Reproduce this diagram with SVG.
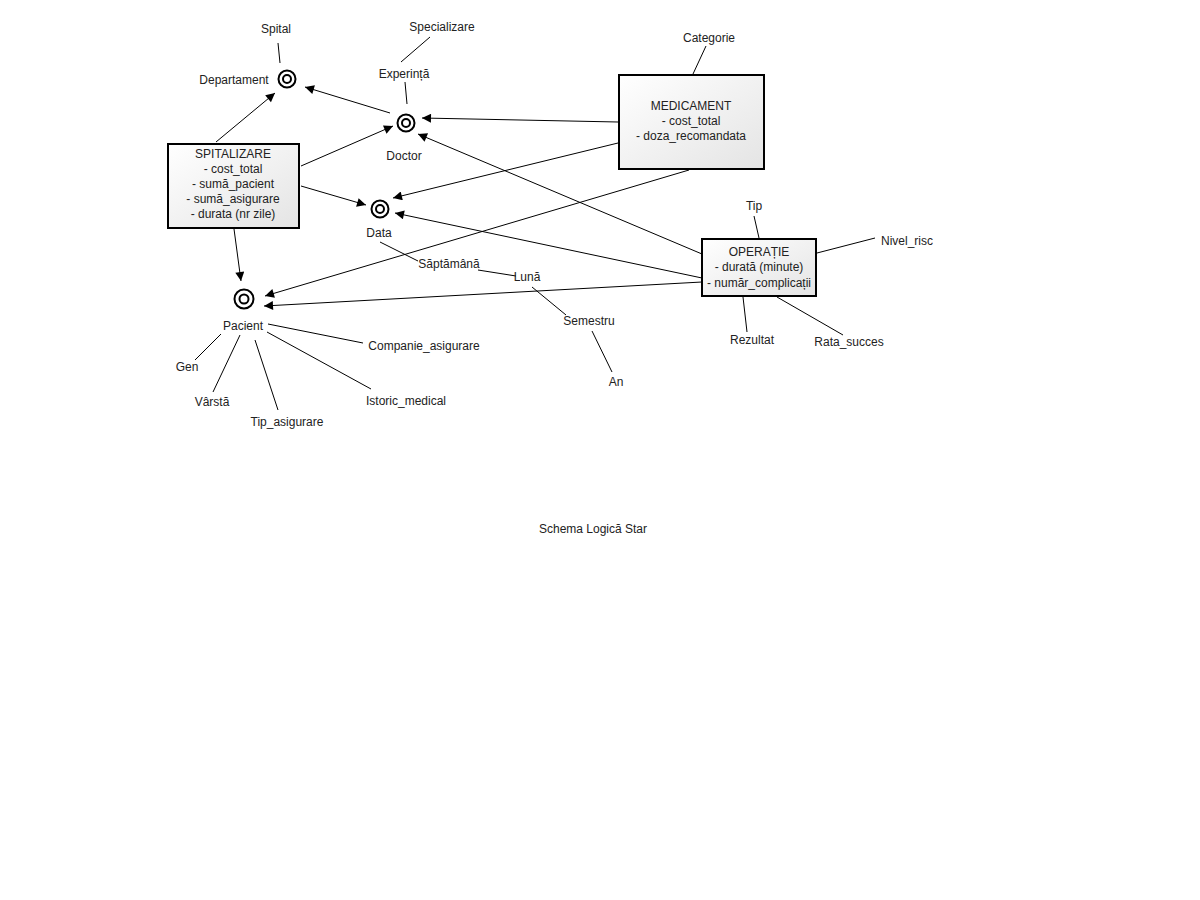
<svg xmlns="http://www.w3.org/2000/svg" width="1200" height="900" viewBox="0 0 1200 900">
<style>
text{font-family:"Liberation Sans",Arial,sans-serif;font-size:12px;fill:#222;text-anchor:middle}
.box{stroke:#000;stroke-width:2;fill:url(#g)}
.ring{fill:none;stroke:#000;stroke-width:2}
.ln{stroke:#000;stroke-width:1;fill:none}
.ar{stroke:#000;stroke-width:1;fill:none;marker-end:url(#ah)}
</style>
<defs>
<linearGradient id="g" x1="0" y1="0" x2="1" y2="1">
<stop offset="0" stop-color="#ffffff"/>
<stop offset="1" stop-color="#e4e4e4"/>
</linearGradient>
<marker id="ah" viewBox="0 0 10 10" refX="10" refY="5" markerWidth="14" markerHeight="9" markerUnits="userSpaceOnUse" orient="auto">
<path d="M0,0 L10,5 L0,10 Z" fill="#000"/>
</marker>
</defs>
<rect width="1200" height="900" fill="#fff"/>
<g id="connectors">
<line class="ar" x1="216" y1="142" x2="275" y2="93"/>
<line class="ar" x1="390" y1="113" x2="305" y2="87"/>
<line class="ar" x1="301" y1="166" x2="393" y2="126"/>
<line class="ar" x1="301" y1="186" x2="366" y2="205"/>
<line class="ar" x1="234" y1="229" x2="241" y2="281"/>
<line class="ar" x1="618" y1="122" x2="422" y2="118"/>
<line class="ar" x1="702" y1="254" x2="418" y2="134"/>
<line class="ar" x1="618" y1="143" x2="393" y2="198"/>
<line class="ar" x1="702" y1="278" x2="395" y2="213"/>
<line class="ar" x1="689" y1="170" x2="265" y2="296"/>
<line class="ar" x1="702" y1="282" x2="264" y2="306"/>
<line class="ln" x1="278" y1="43" x2="280" y2="63"/>
<line class="ln" x1="430" y1="37" x2="401" y2="62"/>
<line class="ln" x1="405" y1="82" x2="407" y2="104"/>
<line class="ln" x1="380" y1="242" x2="418" y2="261"/>
<line class="ln" x1="478" y1="270" x2="516" y2="276"/>
<line class="ln" x1="532" y1="287" x2="566" y2="315"/>
<line class="ln" x1="592" y1="331" x2="612" y2="372"/>
<line class="ln" x1="221" y1="334" x2="195" y2="360"/>
<line class="ln" x1="240" y1="335" x2="213" y2="392"/>
<line class="ln" x1="255" y1="340" x2="278" y2="410"/>
<line class="ln" x1="268" y1="324" x2="363" y2="343"/>
<line class="ln" x1="267" y1="332" x2="371" y2="389"/>
<line class="ln" x1="706" y1="46" x2="693" y2="74"/>
<line class="ln" x1="754" y1="216" x2="759" y2="238"/>
<line class="ln" x1="817" y1="253" x2="875" y2="238"/>
<line class="ln" x1="743" y1="297" x2="747" y2="332"/>
<line class="ln" x1="777" y1="297" x2="843" y2="335"/>
</g>
<g id="spitalizare">
<rect class="box" x="168" y="144" width="131" height="84"/>
<text x="233" y="158">SPITALIZARE</text>
<text x="233" y="173">- cost_total</text>
<text x="233" y="188">- sumă_pacient</text>
<text x="233" y="203">- sumă_asigurare</text>
<text x="233" y="218">- durata (nr zile)</text>
</g>
<g id="medicament">
<rect class="box" x="619" y="75" width="145" height="94"/>
<text x="691" y="110">MEDICAMENT</text>
<text x="691" y="125">- cost_total</text>
<text x="691" y="140">- doza_recomandata</text>
</g>
<g id="operatie">
<rect class="box" x="702" y="239" width="114" height="57"/>
<text x="759" y="256">OPERAȚIE</text>
<text x="759" y="271">- durată (minute)</text>
<text x="759" y="287">- număr_complicații</text>
</g>
<g id="departament">
<circle class="ring" cx="287" cy="79" r="8.5"/>
<circle class="ring" cx="287" cy="79" r="4"/>
<text x="234" y="84">Departament</text>
</g>
<g id="doctor">
<circle class="ring" cx="406" cy="123" r="8.5"/>
<circle class="ring" cx="406" cy="123" r="4"/>
<text x="404" y="160">Doctor</text>
</g>
<g id="data">
<circle class="ring" cx="380" cy="209" r="8.5"/>
<circle class="ring" cx="380" cy="209" r="4"/>
<text x="379" y="237">Data</text>
</g>
<g id="pacient">
<circle class="ring" cx="244" cy="299" r="9.5"/>
<circle class="ring" cx="244" cy="299" r="4.5"/>
<text x="243" y="330">Pacient</text>
</g>
<g id="attrs">
<text x="276" y="33">Spital</text>
<text x="442" y="31">Specializare</text>
<text x="404" y="78">Experință</text>
<text x="449" y="268">Săptămână</text>
<text x="527" y="281">Lună</text>
<text x="589" y="325">Semestru</text>
<text x="616" y="386">An</text>
<text x="187" y="371">Gen</text>
<text x="212" y="406">Vârstă</text>
<text x="287" y="426">Tip_asigurare</text>
<text x="424" y="350">Companie_asigurare</text>
<text x="406" y="405">Istoric_medical</text>
<text x="709" y="42">Categorie</text>
<text x="754" y="210">Tip</text>
<text x="907" y="245">Nivel_risc</text>
<text x="752" y="344">Rezultat</text>
<text x="849" y="346">Rata_succes</text>
</g>
<text x="593" y="533">Schema Logică Star</text>
</svg>
